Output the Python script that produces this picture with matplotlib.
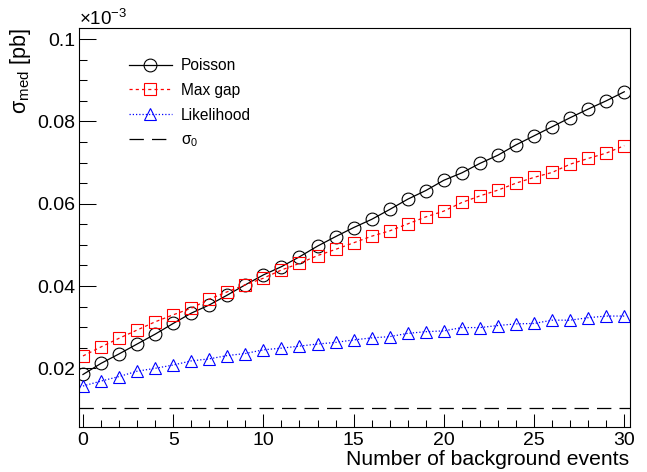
import matplotlib
matplotlib.use("Agg")
import matplotlib.pyplot as plt
from matplotlib.ticker import MultipleLocator, FixedLocator, FixedFormatter
import numpy as np

plt.rcParams['font.family'] = ['Liberation Sans', 'DejaVu Sans']
plt.rcParams['mathtext.fontset'] = 'custom'
plt.rcParams['mathtext.rm'] = 'Liberation Sans'
plt.rcParams['mathtext.it'] = 'Liberation Sans'
plt.rcParams['mathtext.bf'] = 'Liberation Sans'

n_bkg = list(range(0, 31))
poisson = [0.0185, 0.0212, 0.0235, 0.0259, 0.0283, 0.0309, 0.0334, 0.0354, 0.0378, 0.0403,
           0.0427, 0.0447, 0.0471, 0.0497, 0.0520, 0.0542, 0.0562, 0.0586, 0.0611, 0.0632,
           0.0657, 0.0675, 0.0698, 0.0718, 0.0743, 0.0765, 0.0787, 0.0809, 0.0830, 0.0850,
           0.0872]
max_gap = [0.0230, 0.0252, 0.0273, 0.0293, 0.0313, 0.0330, 0.0346, 0.0368, 0.0386, 0.0403,
           0.0419, 0.0439, 0.0455, 0.0474, 0.0489, 0.0505, 0.0521, 0.0534, 0.0551, 0.0568,
           0.0582, 0.0603, 0.0619, 0.0633, 0.0650, 0.0664, 0.0676, 0.0696, 0.0710, 0.0723,
           0.0741]
likelihood = [0.0157, 0.0169, 0.0180, 0.0193, 0.0200, 0.0208, 0.0218, 0.0223, 0.0231, 0.0236,
              0.0245, 0.0249, 0.0254, 0.0259, 0.0263, 0.0269, 0.0274, 0.0277, 0.0285, 0.0289,
              0.0291, 0.0299, 0.0299, 0.0304, 0.0308, 0.0309, 0.0317, 0.0317, 0.0323, 0.0327,
              0.0327]
sigma0 = 0.0103

ytick_vals = [0.02, 0.04, 0.06, 0.08, 0.1]
ytick_labels = ["0.02", "0.04", "0.06", "0.08", "0.1"]
xtick_vals = [0, 5, 10, 15, 20, 25, 30]

fig = plt.figure(figsize=(6.47, 4.72), dpi=100)
ax = fig.add_axes([79/647, 45/472, (629.5-79)/647, (427-28)/472])

lw = 0.9
ax.plot(n_bkg, poisson, color='black', lw=lw, marker='o', ms=9.2, mfc='none',
        mec='black', mew=0.8, label='Poisson')
ax.plot(n_bkg, max_gap, color='red', lw=lw, ls=(0, (2.5, 2.5)), marker='s', ms=8.3,
        mfc='none', mec='red', mew=0.8, label='Max gap')
ax.plot(n_bkg, likelihood, color='blue', lw=lw, ls=(0, (1, 1.6)), marker='^', ms=8.5,
        mfc='none', mec='blue', mew=0.8, label='Likelihood')
ax.axhline(sigma0, color='black', lw=lw, ls=(0, (11.5, 6.5)),
           label=r'$\mathregular{\sigma_{0}}$')

ax.set_xlim(-0.22, 30.29)
ax.set_ylim(0.00574, 0.1027)

ax.xaxis.set_major_locator(FixedLocator(xtick_vals))
ax.xaxis.set_minor_locator(MultipleLocator(1))
ax.yaxis.set_major_locator(FixedLocator(ytick_vals))
ax.yaxis.set_major_formatter(FixedFormatter(ytick_labels))
ax.yaxis.set_minor_locator(FixedLocator([0.025, 0.03, 0.035, 0.045, 0.05, 0.055,
                                         0.065, 0.07, 0.075, 0.085, 0.09, 0.095]))

ax.tick_params(axis='both', which='both', direction='in', top=False, right=False,
               width=0.75, labelsize=14, color='black')
ax.tick_params(axis='y', which='major', length=11.9, pad=2.5)
ax.tick_params(axis='y', which='minor', length=5.8)
ax.tick_params(axis='x', which='major', length=9.4, pad=3.5)
ax.tick_params(axis='x', which='minor', length=5)
for s in ax.spines.values():
    s.set_linewidth(0.8)

ax.set_xlabel('Number of background events', fontsize=15.2, loc='right', labelpad=0.5)
ax.set_ylabel(r'$\mathregular{\sigma_{med}}$ [pb]', fontsize=15.5, loc='top', labelpad=3)

fig.text(79/647, 1 - 25/472, r'$\mathregular{\times10^{-3}}$', fontsize=13.5,
         ha='left', va='baseline')

ax.legend(loc='upper left', bbox_to_anchor=(50/550.5, 1 - 30/399), frameon=False,
          fontsize=11.2, handlelength=2.75, handletextpad=0.6, labelspacing=0.63,
          borderpad=0, borderaxespad=0)

fig.savefig('out.png', dpi=100)
